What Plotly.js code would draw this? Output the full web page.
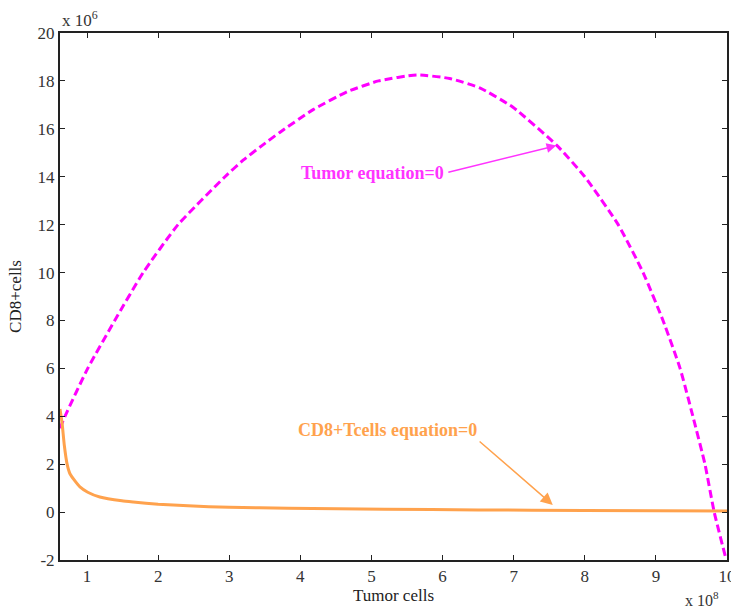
<!DOCTYPE html>
<html>
<head>
<meta charset="utf-8">
<script src="https://cdn.plot.ly/plotly-3.0.1.min.js"></script>
<style>html,body{margin:0;padding:0;background:#fff;}#chart{width:731px;height:611px;}</style>
</head>
<body>
<div id="chart"></div>
<script>
// x in units of 10^8 tumor cells, y in units of 10^6 CD8+ cells
var tumorX = [0.62, 0.69, 1.01, 1.39, 1.79, 2.28, 2.94, 3.20, 3.46, 3.71, 4.18, 4.66, 5.10, 5.64, 6.10, 6.53, 6.99, 7.61, 8.00, 8.47, 8.82, 9.10, 9.34, 9.52, 9.69, 9.82, 9.99];
var tumorY = [3.5, 4.0, 6.0, 8.0, 10.0, 12.0, 14.0, 14.7, 15.3, 15.85, 16.8, 17.55, 18.0, 18.25, 18.1, 17.7, 16.9, 15.3, 14.0, 12.0, 10.0, 8.0, 6.0, 4.0, 2.0, 0.0, -2.0];
var cd8X = [0.62, 0.65, 0.68, 0.72, 0.76, 0.83, 0.90, 1.01, 1.18, 1.49, 1.65, 2.00, 2.42, 3.00, 3.83, 5.19, 6.50, 8.00, 10.0];
var cd8Y = [4.3, 3.7, 2.8, 2.0, 1.6, 1.3, 1.05, 0.83, 0.63, 0.47, 0.42, 0.33, 0.26, 0.20, 0.16, 0.12, 0.09, 0.07, 0.05];
var xTicks = [1, 2, 3, 4, 5, 6, 7, 8, 9, 10];
var yTicks = [-2, 0, 2, 4, 6, 8, 10, 12, 14, 16, 18, 20];

var serif = 'Liberation Serif, Times New Roman, serif';
var traces = [
  {x: tumorX, y: tumorY, mode: 'lines', line: {color: '#ff00ff', width: 3, dash: '8px,4px', shape: 'spline', smoothing: 0.5}, showlegend: false, hoverinfo: 'skip'},
  {x: cd8X, y: cd8Y, mode: 'lines', line: {color: '#ffa24d', width: 3, shape: 'spline', smoothing: 0.5}, showlegend: false, hoverinfo: 'skip'}
];
var axisCommon = {showgrid: false, zeroline: false, showline: true, mirror: 'ticks', linecolor: '#222', linewidth: 2,
  ticks: 'inside', ticklen: 5, tickcolor: '#222', tickwidth: 1, ticklabeloverflow: 'allow',
  tickfont: {family: serif, size: 17, color: '#333'}};
var layout = {
  width: 731, height: 611,
  margin: {l: 60, r: 4, t: 33, b: 51},
  paper_bgcolor: '#fff', plot_bgcolor: '#fff',
  xaxis: Object.assign({}, axisCommon, {range: [0.62, 10], tickvals: xTicks, ticktext: xTicks.map(String),
    title: {text: 'Tumor cells', font: {family: serif, size: 17, color: '#222'}, standoff: 2}}),
  yaxis: Object.assign({}, axisCommon, {range: [-2, 20], tickvals: yTicks, ticktext: yTicks.map(String),
    title: {text: 'CD8+cells', font: {family: serif, size: 17, color: '#222'}, standoff: 12}}),
  annotations: [
    {xref: 'paper', yref: 'paper', x: 0.0, y: 1.0, xanchor: 'left', yanchor: 'bottom', yshift: 1, showarrow: false,
     text: 'x 10<sup>6</sup>', font: {family: serif, size: 17, color: '#333'}},
    {xref: 'paper', yref: 'paper', x: 1.0, y: 0, xanchor: 'right', yanchor: 'top', yshift: -27, xshift: -6, showarrow: false,
     text: 'x 10<sup>8</sup>', font: {family: serif, size: 16, color: '#333'}},
    {x: 5.02, y: 14.17, xref: 'x', yref: 'y', showarrow: false, text: '<b>Tumor equation=0</b>',
     font: {family: serif, size: 18, color: '#ff33ff'}},
    {x: 7.60, y: 15.3, ax: 6.06, ay: 14.17, xref: 'x', yref: 'y', axref: 'x', ayref: 'y', text: '', showarrow: true,
     arrowhead: 2, arrowsize: 1.3, arrowwidth: 1.5, arrowcolor: '#ff33ff'},
    {x: 5.23, y: 3.42, xref: 'x', yref: 'y', showarrow: false, text: '<b>CD8+Tcells equation=0</b>',
     font: {family: serif, size: 18, color: '#ffa24d'}},
    {x: 7.55, y: 0.3, ax: 6.50, ay: 3.0, xref: 'x', yref: 'y', axref: 'x', ayref: 'y', text: '', showarrow: true,
     arrowhead: 2, arrowsize: 1.6, arrowwidth: 1.5, arrowcolor: '#ffa24d'}
  ]
};
Plotly.newPlot('chart', traces, layout, {displayModeBar: false, staticPlot: true});
</script>
</body>
</html>
